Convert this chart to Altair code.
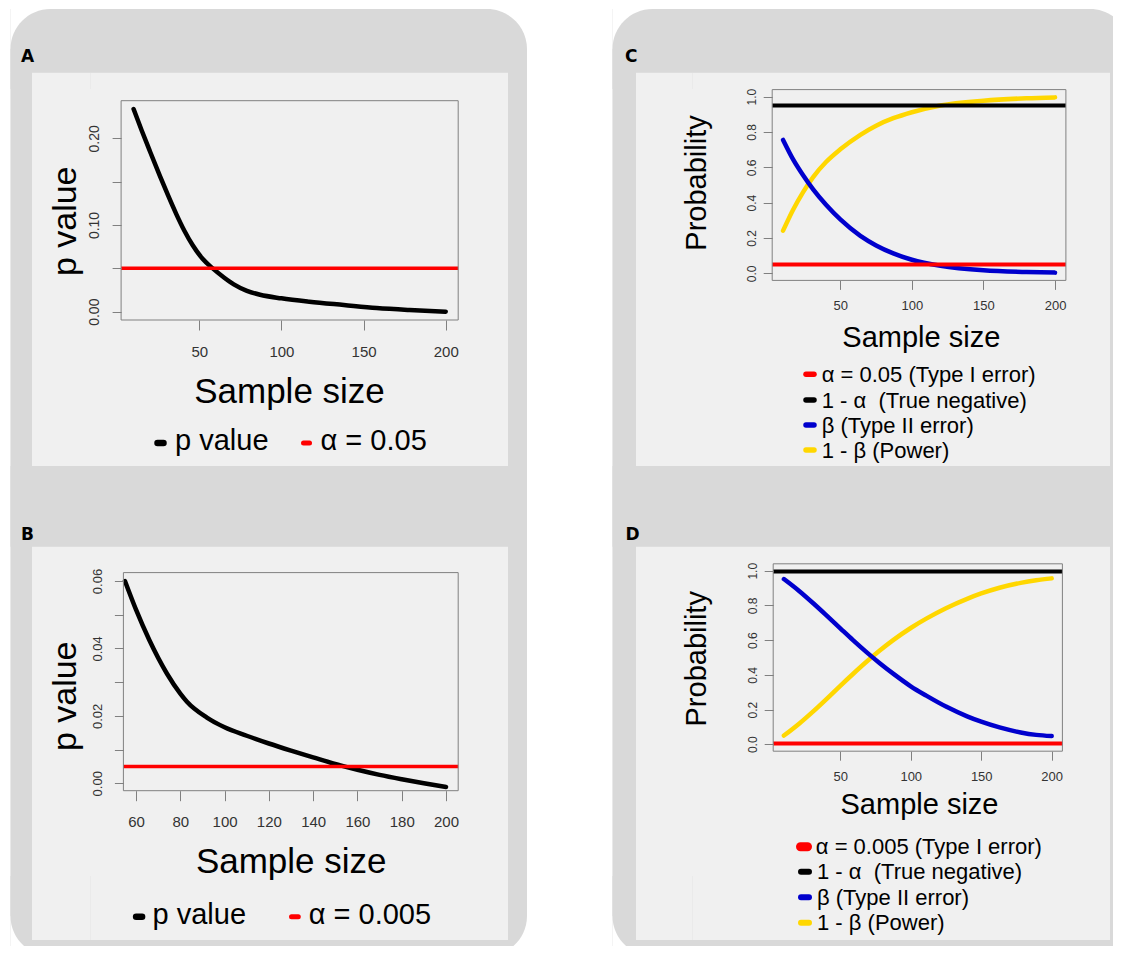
import altair as alt
import pandas as pd

# ---------------- data ----------------
# Panel A: p value by sample size
n_a = [10, 15, 20, 26, 31, 36, 41, 46, 52, 58, 65, 71, 79, 87, 100, 117, 138, 158, 178, 200]
p_a = [0.2338, 0.2088, 0.1848, 0.1566, 0.1341, 0.1126, 0.0931, 0.0766, 0.0610, 0.0502,
       0.0395, 0.0315, 0.0240, 0.0195, 0.0154, 0.0115, 0.0077, 0.0042, 0.0019, 0.0000]
alpha_a = 0.05

# Panel B: p value by sample size (zoomed)
n_b = [55, 60, 66, 74, 80, 83, 92, 100, 110, 120, 130, 140, 149, 160, 170, 180, 190, 200]
p_b = [0.0600, 0.0515, 0.0425, 0.0325, 0.0266, 0.0242, 0.0195, 0.0166, 0.0141, 0.0118,
       0.0097, 0.0077, 0.0059, 0.0040, 0.0025, 0.0012, 0.0000, -0.0011]
alpha_b = 0.005

# Panel C: probabilities, alpha = 0.05
n_c = [10, 17, 24, 31, 40, 50, 64, 75, 87, 100, 120, 150, 180, 200]
beta_c = [0.755, 0.645, 0.555, 0.475, 0.388, 0.305, 0.212, 0.158, 0.113, 0.077,
          0.043, 0.017, 0.007, 0.004]
power_c = [0.2415, 0.360, 0.460, 0.545, 0.630, 0.702, 0.784, 0.836, 0.878, 0.912,
           0.950, 0.977, 0.991, 0.996]
alpha_c = 0.05
true_neg_c = 0.95

# Panel D: probabilities, alpha = 0.005
n_d = [10, 21, 31, 40, 50, 59, 69, 78, 88, 100, 111, 125, 140, 150, 163, 178, 189, 200]
beta_d = [0.952, 0.882, 0.811, 0.744, 0.668, 0.600, 0.528, 0.467, 0.404, 0.334,
          0.280, 0.217, 0.161, 0.130, 0.097, 0.068, 0.054, 0.047]
power_d = [0.050, 0.120, 0.191, 0.259, 0.337, 0.405, 0.478, 0.540, 0.603, 0.670,
           0.724, 0.784, 0.838, 0.869, 0.902, 0.930, 0.945, 0.956]
alpha_d = 0.005
true_neg_d = 0.995

# axis ticks
x_ticks_a = [50, 100, 150, 200]
y_ticks_a = [0, 0.05, 0.10, 0.15, 0.20]
x_ticks_b = [60, 80, 100, 120, 140, 160, 180, 200]
y_ticks_b = [0, 0.01, 0.02, 0.03, 0.04, 0.05, 0.06]
x_ticks_cd = [50, 100, 150, 200]
y_ticks_cd = [0, 0.2, 0.4, 0.6, 0.8, 1.0]

# text
panel_letters = ["A", "B", "C", "D"]
x_title = "Sample size"
y_title_ab = "p value"
y_title_cd = "Probability"
legend_a = ["p value", "α = 0.05"]
legend_b = ["p value", "α = 0.005"]
legend_c = ["α = 0.05 (Type I error)", "1 - α \u00a0(True negative)",
            "β (Type II error)", "1 - β (Power)"]
legend_d = ["α = 0.005 (Type I error)", "1 - α \u00a0(True negative)",
            "β (Type II error)", "1 - β (Power)"]
legend_colors_ab = ["#000000", "#ff0000"]
legend_colors_cd = ["#ff0000", "#000000", "#0000cd", "#ffd700"]

# ---------------- styling / layout ----------------
W, H = 1105, 938
FONT = "Liberation Sans"
GRAY_PANEL = "#d9d9d9"
LIGHT_PANEL = "#f0f0f0"
FRAME = "#808080"
BLACK, RED, BLUE, GOLD = "#000000", "#ff0000", "#0000cd", "#ffd700"

one = pd.DataFrame({"k": [0]})


def rect(x0, x1, y0, y1, color, **radius):
    return alt.Chart(one).mark_rect(color=color, **radius).encode(
        x=alt.value(x0), x2=alt.value(x1), y=alt.value(y0), y2=alt.value(y1))


def text(s, x, y, size, weight="normal", font=FONT):
    return alt.Chart(one).mark_text(
        text=s, font=font, fontSize=size, fontWeight=weight, align="left",
        baseline="alphabetic", color="black").encode(x=alt.value(x), y=alt.value(y))


def marker(x0, x1, y, color, width):
    return alt.Chart(one).mark_rule(color=color, strokeWidth=width, strokeCap="round").encode(
        x=alt.value(x0), x2=alt.value(x1), y=alt.value(y))


def rounded_column(L, R, T, B, r, ix0, ix1, inners):
    """Gray rounded panel with light inner panels; the light colour is the page
    background, so nothing is painted where the axes sit."""
    out = []
    (a0, a1), (b0, b1) = inners
    for box in [(L, R, T, a0), (L, R, a1, b0), (L, R, b1, B), (L, ix0, a0, b1), (ix1, R, a0, b1)]:
        out.append(rect(*box, GRAY_PANEL))
    for box in [(L, L + r, T, T + r), (R - r, R, T, T + r), (L, L + r, B - r, B), (R - r, R, B - r, B)]:
        out.append(rect(*box, "white"))
    corners = [((L, L + 2 * r, T, T + 2 * r), {"cornerRadiusTopLeft": r}),
               ((R - 2 * r, R, T, T + 2 * r), {"cornerRadiusTopRight": r}),
               ((L, L + 2 * r, B - 2 * r, B), {"cornerRadiusBottomLeft": r}),
               ((R - 2 * r, R, B - 2 * r, B), {"cornerRadiusBottomRight": r})]
    for box, rad in corners:
        out.append(rect(*box, GRAY_PANEL, **rad))
    for box, _ in corners:
        for (y0, y1) in inners:
            xa, xb = max(box[0], ix0), min(box[1], ix1)
            ya, yb = max(box[2], y0), min(box[3], y1)
            if xa < xb and ya < yb:
                out.append(rect(xa, xb, ya, yb, LIGHT_PANEL))
    return out


def x_axis(frame_bottom, values, fmt, lsize, lpad, tsize, title_x, title_y, title_size):
    return alt.Axis(
        orient="bottom", offset=frame_bottom - H, values=values, format=fmt,
        domain=False, grid=False, ticks=True, tickSize=tsize, tickColor=FRAME, tickWidth=1,
        labelFont=FONT, labelFontSize=lsize, labelColor="#333333", labelPadding=lpad,
        labelFlush=False, labelOverlap=False, labelBound=False,
        title=x_title, titleFont=FONT, titleFontSize=title_size, titleFontWeight="normal",
        titleColor="black", titleX=title_x, titleY=title_y, titleAlign="center",
        titleBaseline="alphabetic", titleAngle=0, zindex=2)


def y_axis(frame_left, values, label_expr, lsize, lpad, tsize, title, title_x, title_y, title_size):
    return alt.Axis(
        orient="left", offset=-frame_left, values=values, labelExpr=label_expr,
        domain=False, grid=False, ticks=True, tickSize=tsize, tickColor=FRAME, tickWidth=1,
        labelFont=FONT, labelFontSize=lsize, labelColor="#333333", labelPadding=lpad,
        labelAngle=270, labelAlign="center", labelBaseline="alphabetic",
        labelFlush=False, labelOverlap=False, labelBound=False,
        title=title, titleFont=FONT, titleFontSize=title_size, titleFontWeight="normal",
        titleColor="black", titleX=title_x, titleY=title_y, titleAlign="center",
        titleBaseline="alphabetic", titleAngle=270, zindex=2)


def panel(xdom, xrng, ydom, yrng, xax, yax, curves, hlines):
    xs = alt.Scale(domain=xdom, range=xrng, nice=False, zero=False)
    ys = alt.Scale(domain=ydom, range=yrng, nice=False, zero=False)
    layers = []
    for i, (nn, vv, color, sw) in enumerate(curves):
        df = pd.DataFrame({"n": nn, "v": vv})
        layers.append(alt.Chart(df).mark_line(
            color=color, strokeWidth=sw, strokeCap="round", strokeJoin="round",
            interpolate="monotone").encode(
            x=alt.X("n:Q", scale=xs, axis=xax if i == 0 else None),
            y=alt.Y("v:Q", scale=ys, axis=yax if i == 0 else None)))
    for level, color, sw in hlines:
        layers.append(alt.Chart(one).mark_rule(color=color, strokeWidth=sw).encode(
            x=alt.XDatum(xdom[0], scale=xs, axis=None), x2=alt.X2Datum(xdom[1]),
            y=alt.YDatum(level, scale=ys, axis=None)))
    layers.append(alt.Chart(one).mark_rect(fill="transparent", stroke=FRAME, strokeWidth=1).encode(
        x=alt.XDatum(xdom[0], scale=xs, axis=None), x2=alt.X2Datum(xdom[1]),
        y=alt.YDatum(ydom[0], scale=ys, axis=None), y2=alt.Y2Datum(ydom[1])))
    return layers


expr_a = "round(datum.value*100) % 10 == 0 ? format(datum.value, '.2f') : ''"
expr_b = "round(datum.value*100) % 2 == 0 ? format(datum.value, '.2f') : ''"
expr_cd = "format(datum.value, '.1f')"

pA = panel([2.4, 207.6], [113.1, 450.2], [-0.0096, 0.2434], [312.0, 92.7],
           x_axis(312.0, x_ticks_a, "d", 15, 14, 10, 281, 82, 35),
           y_axis(113.1, y_ticks_a, expr_a, 14, 14, 9, y_title_ab, -45.6, 212.8, 34),
           [(n_a, p_a, BLACK, 4.5)], [(alpha_a, RED, 3.5)])

pB = panel([54.3, 205.5], [115.4, 450.2], [-0.0022, 0.0625], [782.7, 564.6],
           x_axis(782.7, x_ticks_b, "d", 15, 14, 10, 282.7, 82, 35),
           y_axis(115.4, y_ticks_b, expr_b, 13, 13, 9, y_title_ab, -47.9, 687.8, 34),
           [(n_b, p_b, BLACK, 4.5)], [(alpha_b, RED, 3.5)])

pC = panel([2.4, 207.6], [764.2, 1057.9], [-0.04, 1.04], [272.4, 81.6],
           x_axis(272.4, x_ticks_cd, "d", 13, 10, 9, 912.8, 66, 29),
           y_axis(764.2, y_ticks_cd, expr_cd, 12, 7.5, 9, y_title_cd, -66.6, 174.5, 29),
           [(n_c, power_c, GOLD, 4.5), (n_c, beta_c, BLUE, 4.5)],
           [(alpha_c, RED, 4), (true_neg_c, BLACK, 4)])

pD = panel([2.4, 207.6], [765.2, 1054.4], [-0.04, 1.04], [743.2, 555.8],
           x_axis(743.2, x_ticks_cd, "d", 13, 10, 9, 911, 62, 29),
           y_axis(765.2, y_ticks_cd, expr_cd, 12, 8, 9, y_title_cd, -68.2, 650.3, 29),
           [(n_d, power_d, GOLD, 4.5), (n_d, beta_d, BLUE, 4.5)],
           [(alpha_d, RED, 4), (true_neg_d, BLACK, 4)])

decor = [
    rect(0, 2.5, 0, H, "white"),
    rect(0, W, 0, 1, "white"),
    rect(519, 604.5, 0, H, "white"),
]
decor += rounded_column(2.5, 519, 1, 948, 40, 24, 500, [(64.7, 458), (538.7, 932)])
decor += rounded_column(604.5, 1122, 1, 948, 40, 628, 1102, [(64.7, 458), (538.7, 932)])
decor += [
    text(panel_letters[0], 13, 54, 17, "bold", "DejaVu Sans"),
    text(panel_letters[1], 13, 532, 17, "bold", "DejaVu Sans"),
    text(panel_letters[2], 617, 54, 17, "bold", "DejaVu Sans"),
    text(panel_letters[3], 617.5, 532, 17, "bold", "DejaVu Sans"),
]

legends = [
    # A
    marker(149.5, 155.5, 435, legend_colors_ab[0], 6.5),
    text(legend_a[0], 167, 442, 29),
    marker(295.5, 301.5, 435, legend_colors_ab[1], 5),
    text(legend_a[1], 312.5, 442, 29),
    # B
    marker(128.1, 134.1, 908.7, legend_colors_ab[0], 6.5),
    text(legend_b[0], 144.5, 916, 29),
    marker(283.5, 290.3, 908.7, legend_colors_ab[1], 5),
    text(legend_b[1], 300.7, 916, 29),
]
for i, y in enumerate([366.3, 392, 417, 442]):
    legends.append(marker(798, 806, y, legend_colors_cd[i], 5.5))
    legends.append(text(legend_c[i], 813.7, y + 7.5, 22))
for i, y in enumerate([838.7, 863.7, 889.3, 914.7]):
    if i == 0:
        legends.append(marker(792.5, 799.5, y, legend_colors_cd[i], 9))
        legends.append(text(legend_d[i], 807.8, y + 7.5, 22))
    else:
        legends.append(marker(793, 801, y, legend_colors_cd[i], 6))
        legends.append(text(legend_d[i], 809, y + 7.5, 22))

chart = alt.layer(*decor, *pA, *pB, *pC, *pD, *legends).resolve_scale(
    x="independent", y="independent"
).properties(
    width=W, height=H, padding=0,
    autosize=alt.AutoSizeParams(type="none"), background=LIGHT_PANEL
).configure_view(stroke=None)

chart.save("out.html", embed_options={"renderer": "svg", "actions": False})
